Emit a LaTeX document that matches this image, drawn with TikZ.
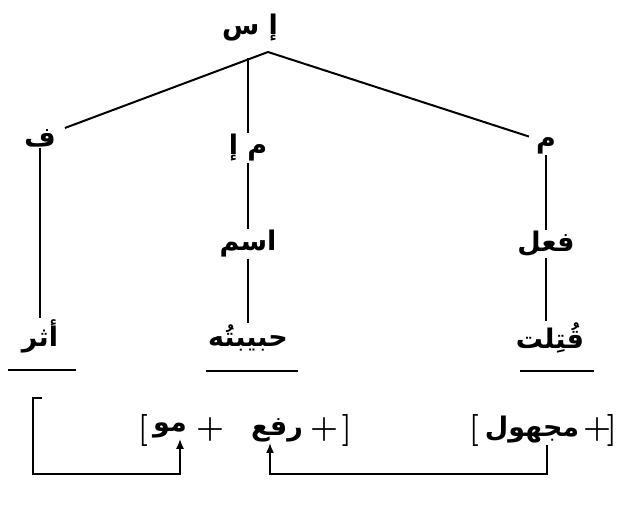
\documentclass[tikz,border=0pt]{standalone}
\usepackage{fontspec}
\newfontfamily\ar[Script=Arabic]{DejaVu Sans}
\usetikzlibrary{arrows.meta,positioning}

\begin{document}
\begin{tikzpicture}[x=1pt,y=-1pt,
  word/.style={font=\fontsize{27}{32}\ar\bfseries, inner sep=1pt},
  sym/.style={font=\fontsize{32}{36}\selectfont\bfseries, inner sep=1pt},
  edge/.style={line width=2pt},
  uline/.style={line width=1.7pt},
  arrow/.style={line width=1.7pt, -{Latex[length=10pt,width=8pt]}}
]
\useasboundingbox (0,0) rectangle (619,508);
% tree (two-word labels typed in visual order)
\node[word] (root) at (250,28) {{\ar\bfseries س}\ {\ar\bfseries إ}};
\node[word] (f) at (40,138) {ف};
\node[word] (mi) at (248,148) {{\ar\bfseries إ}\ {\ar\bfseries م}};
\node[word] (m) at (546,146) {م};
\node[word] (ism) at (248,244) {اسم};
\node[word] (fil) at (546,244) {فعل};
\node[word] (athar) at (40,336) {أثر};
\node[word] (habiba) at (248,338) {حبيبتُه};
\node[word] (qutilat) at (550,338) {قُتِلت};
\coordinate (top) at (268,52);
\coordinate (mtop) at (248,58);
\draw[edge] (top) -- ([xshift=8pt]f.north east);
\draw[edge] (top) -- ([xshift=-6pt]m.north west);
\draw[edge] (mtop) -- (mi.north);
\draw[edge] (mi) -- (ism);
\draw[edge] (ism) -- (habiba);
\draw[edge] (f) -- (athar);
\draw[edge] (m) -- (fil);
\draw[edge] (fil) -- (fil |- qutilat.north);
% underlines
\draw[uline] (8,370) -- (76,370);
\draw[uline] (206,371) -- (298,371);
\draw[uline] (520,371) -- (594,371);
% features
\node[word] (mu) at (170,430) {مو};
\node[word] (rafa) at (277,430) {رفع};
\node[word] (majhul) at (532,430) {مجهول};
\node[sym] (lb1) at (143,430) {[};
\node[sym] (pl1) at (210,430) {+};
\node[sym] (pl2) at (324,430) {+};
\node[sym] (rb1) at (347,430) {]};
\node[sym] (lb2) at (474,430) {[};
\node[sym] (pl3) at (597,430) {+};
\node[sym] (rb2) at (612,430) {]};
% links
\coordinate (low) at (0,474);
\coordinate (brk) at (42,398);
\coordinate (brkc) at (33,398);
\draw[arrow] (brk) -- (brkc) -- (brkc |- low) -| ([xshift=10pt]mu.south);
\draw[arrow] ([xshift=15pt]majhul.south) -- ([xshift=15pt]majhul.south |- low) -| ([xshift=-7pt]rafa.south);
\end{tikzpicture}
\end{document}
